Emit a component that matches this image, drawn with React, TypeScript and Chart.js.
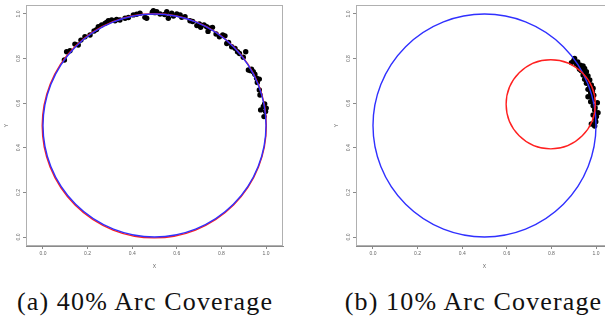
import React, { useEffect, useRef } from "react";
import { Chart, registerables } from "chart.js";

Chart.register(...registerables);

// ---------- data ----------
const tickValues = [0, 0.2, 0.4, 0.6, 0.8, 1.0];
const axisMin = -0.0762;
const axisMax = 1.0762;

// Panel (a): 40% arc coverage
const leftX = [
  0.096, 0.106, 0.121, 0.143, 0.158, 0.170, 0.188, 0.211, 0.229, 0.248, 0.263, 0.278, 0.293, 0.308,
  0.323, 0.345, 0.368, 0.383, 0.405, 0.420, 0.435, 0.457, 0.465, 0.495, 0.502, 0.510, 0.525, 0.555,
  0.562, 0.577, 0.585, 0.600, 0.615, 0.622, 0.637, 0.659, 0.671, 0.701, 0.707, 0.722, 0.734, 0.749,
  0.760, 0.776, 0.791, 0.806, 0.816, 0.824, 0.846, 0.861, 0.872, 0.881, 0.898, 0.909, 0.921, 0.931,
  0.943, 0.950, 0.958, 0.970, 0.961, 0.970, 0.973, 0.976, 0.988, 0.994, 1.001, 0.998, 0.991, 0.240,
  0.285, 0.330, 0.490, 0.545, 0.690, 0.740, 0.832, 0.935,
];
const leftY = [
  0.794, 0.831, 0.835, 0.865, 0.861, 0.883, 0.898, 0.906, 0.924, 0.943, 0.951, 0.958, 0.970, 0.973,
  0.970, 0.973, 0.981, 0.984, 0.996, 0.999, 1.003, 0.985, 0.981, 1.015, 1.006, 1.010, 1.000, 1.010,
  0.981, 1.003, 0.991, 1.000, 0.996, 0.985, 0.988, 0.970, 0.966, 0.955, 0.940, 0.951, 0.943, 0.936,
  0.940, 0.910, 0.898, 0.906, 0.902, 0.868, 0.853, 0.846, 0.831, 0.823, 0.806, 0.831, 0.749, 0.746,
  0.741, 0.730, 0.712, 0.708, 0.693, 0.659, 0.637, 0.570, 0.585, 0.597, 0.578, 0.563, 0.540, 0.930,
  0.962, 0.975, 1.008, 0.998, 0.948, 0.922, 0.872, 0.752,
];

// Panel (b): 10% arc coverage
const rightX = [
  0.904, 0.890, 0.900, 0.912, 0.918, 0.922, 0.930, 0.942, 0.949, 0.934, 0.926, 0.957, 0.942, 0.950,
  0.964, 0.949, 0.958, 0.972, 0.957, 0.966, 0.979, 0.987, 0.964, 0.972, 0.976, 0.984, 0.964, 0.981,
  0.990, 0.976, 0.985, 1.006, 0.987, 0.996, 0.994, 1.009, 0.987, 0.997, 1.002, 0.979, 0.994, 0.999,
];
const rightY = [
  0.801, 0.782, 0.790, 0.776, 0.785, 0.764, 0.770, 0.767, 0.756, 0.746, 0.752, 0.741, 0.726, 0.733,
  0.722, 0.707, 0.714, 0.704, 0.689, 0.694, 0.682, 0.667, 0.662, 0.672, 0.647, 0.654, 0.629, 0.629,
  0.636, 0.607, 0.615, 0.602, 0.588, 0.580, 0.570, 0.557, 0.547, 0.532, 0.540, 0.507, 0.498, 0.517,
];

// circles: [centerX, centerY, radius]
const trueCircle = [0.5, 0.5, 0.5];
const leftFitCircle = [0.499, 0.4985, 0.5025];
const rightFitCircle = [0.797, 0.595, 0.2];

const captions = ["(a) 40% Arc Coverage", "(b) 10% Arc Coverage"];

// ---------- styles ----------
const FIT_COLOR = "#ff2020";
const TRUE_COLOR = "#3030ff";
const AXIS_COLOR = "#8a8a8a";
const BOX_COLOR = "#b0b0b0";
const TICK_COLOR = "#666";

const circlePlugin = {
  id: "circles",
  afterDatasetsDraw(chart: any) {
    const opts = chart.options.plugins.circles;
    if (!opts) return;
    const { ctx, chartArea, scales } = chart;
    const xs = scales.x;
    const ys = scales.y;
    ctx.save();
    // plot box
    ctx.strokeStyle = BOX_COLOR;
    ctx.lineWidth = 1;
    ctx.strokeRect(chartArea.left + 0.5, chartArea.top + 0.5, chartArea.right - chartArea.left - 1, chartArea.bottom - chartArea.top - 1);
    ctx.beginPath();
    ctx.rect(chartArea.left, chartArea.top, chartArea.right - chartArea.left, chartArea.bottom - chartArea.top);
    ctx.clip();
    for (const c of opts.list) {
      const [cx, cy, r] = c.circle;
      const px = xs.getPixelForValue(cx);
      const py = ys.getPixelForValue(cy);
      const rx = Math.abs(xs.getPixelForValue(cx + r) - px);
      const ry = Math.abs(ys.getPixelForValue(cy + r) - py);
      ctx.beginPath();
      ctx.ellipse(px, py, rx, ry, 0, 0, Math.PI * 2);
      ctx.strokeStyle = c.color;
      ctx.lineWidth = 1.4;
      ctx.stroke();
    }
    ctx.restore();
  },
};

function Panel({ xs, ys, circles }: { xs: number[]; ys: number[]; circles: { circle: number[]; color: string }[] }) {
  const ref = useRef<HTMLCanvasElement>(null);
  useEffect(() => {
    if (!ref.current) return;
    const pts = xs.map((x, i) => ({ x, y: ys[i] }));
    const tickFont = { family: "'Liberation Sans', Arial, sans-serif", size: 5 };
    const setTicks = (s: any) => {
      s.ticks = tickValues.map((v) => ({ value: v }));
    };
    const chart = new Chart(ref.current, {
      type: "scatter",
      data: {
        datasets: [
          {
            data: pts,
            pointRadius: 2.7,
            pointBackgroundColor: "#000",
            pointBorderColor: "#000",
            pointBorderWidth: 0,
            showLine: false,
          },
        ],
      },
      options: {
        animation: false,
        responsive: false,
        devicePixelRatio: 1,
        layout: { padding: { left: 0, right: 17, top: 5, bottom: 0 } },
        plugins: {
          legend: { display: false },
          tooltip: { enabled: false },
          circles: { list: circles },
        } as any,
        scales: {
          x: {
            type: "linear",
            min: axisMin,
            max: axisMax,
            afterBuildTicks: setTicks,
            afterFit: (s: any) => {
              s.height = 24;
            },
            border: { display: true, color: AXIS_COLOR },
            grid: { display: true, drawOnChartArea: false, drawTicks: true, tickLength: 3, color: AXIS_COLOR },
            ticks: {
              font: tickFont,
              color: TICK_COLOR,
              padding: 2,
              maxRotation: 0,
              minRotation: 0,
              callback: (v: any) => Number(v).toFixed(1),
            },
            title: { display: true, text: "X", font: tickFont, color: TICK_COLOR, padding: { top: 3, bottom: 0 } },
          },
          y: {
            type: "linear",
            min: -0.0403,
            max: 1.0403,
            afterBuildTicks: setTicks,
            afterFit: (s: any) => {
              s.width = 26;
            },
            border: { display: true, color: AXIS_COLOR },
            grid: { display: true, drawOnChartArea: false, drawTicks: true, tickLength: 3, color: AXIS_COLOR },
            ticks: {
              font: tickFont,
              color: TICK_COLOR,
              padding: 1,
              minRotation: 90,
              maxRotation: 90,
              crossAlign: "center",
              callback: (v: any) => Number(v).toFixed(1),
            },
            title: { display: true, text: "Y", font: tickFont, color: TICK_COLOR, padding: { top: 4, bottom: 0 } },
          },
        },
      },
      plugins: [circlePlugin],
    });
    return () => chart.destroy();
  }, []);
  return <canvas ref={ref} width={300} height={270} style={{ width: 300, height: 270, display: "block" }} />;
}

const captionStyle: React.CSSProperties = {
  position: "absolute",
  top: 289,
  width: 320,
  textAlign: "center",
  fontFamily: "'Liberation Serif', 'DejaVu Serif', serif",
  fontSize: 26,
  lineHeight: "25px",
  letterSpacing: "1.15px",
  color: "#111",
  whiteSpace: "nowrap",
};

export default function App() {
  return (
    <div style={{ position: "absolute", left: 0, top: 0, width: 605, height: 323, overflow: "hidden", background: "#fff" }}>
      <div style={{ position: "absolute", left: 0, top: 0 }}>
        <Panel
          xs={leftX}
          ys={leftY}
          circles={[
            { circle: leftFitCircle, color: FIT_COLOR },
            { circle: trueCircle, color: TRUE_COLOR },
          ]}
        />
      </div>
      <div style={{ position: "absolute", left: 330, top: 0 }}>
        <Panel
          xs={rightX}
          ys={rightY}
          circles={[
            { circle: trueCircle, color: TRUE_COLOR },
            { circle: rightFitCircle, color: FIT_COLOR },
          ]}
        />
      </div>
      <div style={{ ...captionStyle, left: 145 - 160 }}>{captions[0]}</div>
      <div style={{ ...captionStyle, left: 473.5 - 160 }}>{captions[1]}</div>
    </div>
  );
}
